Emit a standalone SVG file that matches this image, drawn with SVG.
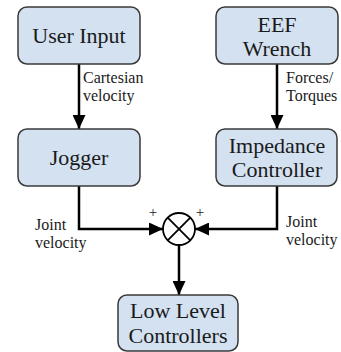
<svg xmlns="http://www.w3.org/2000/svg" width="341" height="352" viewBox="0 0 341 352">
  <defs>
    <style>
      .box { fill: #d3e1f1; stroke: #3a3a3a; stroke-width: 1.5; }
      text { font-family: 'Liberation Serif', 'Times New Roman', serif; fill: #1a1a1a; }
      .node-text { font-size: 22px; text-anchor: middle; }
      .label { font-size: 16px; }
      .plus { font-size: 15px; text-anchor: middle; }
      .wire { fill: none; stroke: #000; stroke-width: 2.5; }
      .sum { fill: #fff; stroke: #000; stroke-width: 1.8; }
    </style>
    <marker id="arrow" markerUnits="userSpaceOnUse" markerWidth="14" markerHeight="13" refX="14" refY="6.5" orient="auto">
      <path d="M0,0 L14,6.5 L0,13 Z" fill="#000"/>
    </marker>
  </defs>

  <rect width="341" height="352" fill="#ffffff"/>

  <g id="connectors">
    <path class="wire" d="M79,64 V129" marker-end="url(#arrow)"/>
    <path class="wire" d="M277,64 V129" marker-end="url(#arrow)"/>
    <path class="wire" d="M79,186 V229 H163" marker-end="url(#arrow)"/>
    <path class="wire" d="M277,186 V229 H195" marker-end="url(#arrow)"/>
    <path class="wire" d="M179,245 V295" marker-end="url(#arrow)"/>
    <text class="label" x="83" y="83">Cartesian</text>
    <text class="label" x="83" y="101">velocity</text>
    <text class="label" x="286" y="83">Forces/</text>
    <text class="label" x="286" y="101">Torques</text>
    <text class="label" x="35" y="230">Joint</text>
    <text class="label" x="35" y="248">velocity</text>
    <text class="label" x="286" y="227">Joint</text>
    <text class="label" x="286" y="245">velocity</text>
  </g>

  <g id="user-input">
    <rect class="box" x="18" y="7" width="122" height="57" rx="9"/>
    <text class="node-text" x="79" y="43">User Input</text>
  </g>

  <g id="eef-wrench">
    <rect class="box" x="216" y="7" width="122" height="57" rx="9"/>
    <text class="node-text" x="277" y="32">EEF</text>
    <text class="node-text" x="277" y="56">Wrench</text>
  </g>

  <g id="jogger">
    <rect class="box" x="18" y="129" width="122" height="57" rx="9"/>
    <text class="node-text" x="79" y="165">Jogger</text>
  </g>

  <g id="impedance-controller">
    <rect class="box" x="216" y="129" width="121" height="57" rx="9"/>
    <text class="node-text" x="277" y="153">Impedance</text>
    <text class="node-text" x="277" y="177">Controller</text>
  </g>

  <g id="sum">
    <circle class="sum" cx="179" cy="229" r="16"/>
    <path d="M167.7,217.7 L190.3,240.3 M190.3,217.7 L167.7,240.3" stroke="#000" stroke-width="1.8" fill="none"/>
    <text class="plus" x="153" y="217">+</text>
    <text class="plus" x="200" y="217">+</text>
  </g>

  <g id="low-level-controllers">
    <rect class="box" x="118" y="295" width="120" height="56" rx="9"/>
    <text class="node-text" x="178" y="318">Low Level</text>
    <text class="node-text" x="178" y="343">Controllers</text>
  </g>
</svg>
